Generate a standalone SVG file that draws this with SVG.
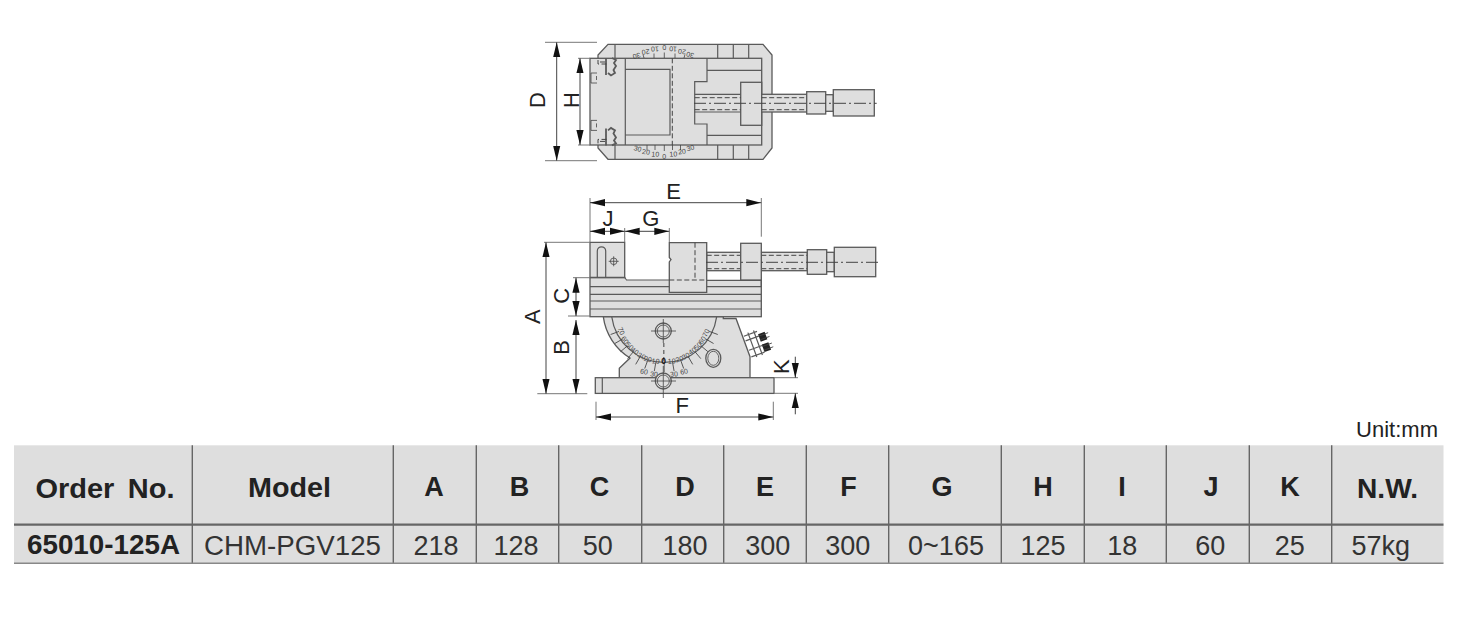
<svg xmlns="http://www.w3.org/2000/svg" xmlns:xlink="http://www.w3.org/1999/xlink" width="1463" height="622" viewBox="0 0 1463 622">
<style>
text{font-family:"Liberation Sans",Arial,sans-serif;fill:#222}
.s{fill:#dedede;stroke:#5a5a5a;stroke-width:1.3}
.l{fill:none;stroke:#5a5a5a;stroke-width:1.2}
.d{fill:none;stroke:#444;stroke-width:1;stroke-dasharray:5 2.5}
.c{fill:none;stroke:#444;stroke-width:1;stroke-dasharray:12 3 2 3}
.t{fill:none;stroke:#444;stroke-width:.8}
.dim{fill:none;stroke:#444;stroke-width:1}
.ext{fill:none;stroke:#777;stroke-width:1}
.arr{marker-end:url(#a)}
.two{marker-start:url(#a);marker-end:url(#a)}
.lab{font-size:22px;text-anchor:middle}
.sc{font-size:7px;text-anchor:middle;fill:#444}
.h{font-size:27px;font-weight:700;text-anchor:middle;fill:#222}
.v{font-size:27px;text-anchor:middle;fill:#333}
.sep{stroke:#666;stroke-width:1.4;fill:none}
</style>
<defs>
<marker id="a" markerUnits="userSpaceOnUse" markerWidth="15" markerHeight="8" refX="15" refY="4" orient="auto-start-reverse"><path d="M0 0.400L15 4L0 7.600Z" fill="#111"/></marker>
<g id="bolt">
<path class="l" style="stroke-width:1.8" d="M606 58V75M612 58L616 60L614 63L616 66L613.500 70L615 73L611 75.500L608 73"/>
<path class="d" stroke-dasharray="3 2" d="M598 60V64H607M600 62H606"/>
<path class="t" d="M597 73H591V83H597M596.500 76V80"/>
</g>
<line id="tk" class="t" x1="664.200" y1="363" x2="664.200" y2="372"/>
</defs>

<g id="top-view">
<path class="s" d="M608 44.300H763L772 55V148L763 159.300H608L598 148V55Z"/>
<path class="l" d="M615 44.300V58M615 145V159.300M717.700 44.300V58M733.300 44.300V58M748.700 44.300V58M717.700 145V159.300M733.300 145V159.300M748.700 145V159.300"/>
<rect class="s" x="590" y="58.300" width="171.700" height="86.700"/>
<path class="l" d="M625.300 58.300V145M625.300 69.300H670V135H625.300"/>
<path class="d" d="M672.300 58.300V145"/>
<path class="l" d="M707 58.300V81.700H694.700V124H707V145M707 70.300H761.700M707 135.300H761.700"/>
<rect class="s" x="740.700" y="82.300" width="21" height="43"/>
<path class="l" d="M694.700 94.300H740.700M694.700 112H740.700"/>
<rect class="s" x="761.700" y="94.300" width="45" height="17.700"/>
<path class="d" d="M694.700 97.700H740.700M694.700 109.700H740.700M761.700 97.700H806.700M761.700 109.700H806.700"/>
<rect class="s" x="806.700" y="91.700" width="19" height="22.300"/>
<rect class="s" x="825.700" y="94.700" width="7.600" height="16.600"/>
<rect class="s" x="833.300" y="89.700" width="41" height="26.300"/>
<path class="c" d="M694 103.300H876.700"/>
<use xlink:href="#bolt" href="#bolt"/>
<use xlink:href="#bolt" href="#bolt" transform="translate(0 203.400) scale(1 -1)"/>
<path class="t" d="M644 58L643 54.500M654 58V53.500M664.300 58V52.500M675 58V53.500M684 58L685 54.500M647 145V150M655 145V150M664.300 145V151M672.500 145V150M680.500 145V150"/>
<text class="sc" transform="rotate(165 636.700 55.700)" x="636.700" y="58">30</text>
<text class="sc" transform="rotate(172 645.700 52.300)" x="645.700" y="55">20</text>
<text class="sc" transform="rotate(177 655 49.300)" x="655" y="52">10</text>
<text class="sc" transform="rotate(180 664.300 47.700)" x="664.300" y="50.300">0</text>
<text class="sc" transform="rotate(183 673 49.300)" x="673" y="52">10</text>
<text class="sc" transform="rotate(188 682 51.700)" x="682" y="54.300">20</text>
<text class="sc" transform="rotate(195 690 55)" x="690" y="57.600">30</text>
<text class="sc" transform="rotate(15 637.700 148.300)" x="637.700" y="151">30</text>
<text class="sc" transform="rotate(8 646 151.700)" x="646" y="154.300">20</text>
<text class="sc" transform="rotate(3 655.300 154)" x="655.300" y="156.600">10</text>
<text class="sc" x="664.300" y="158.600">0</text>
<text class="sc" transform="rotate(-3 673.300 154)" x="673.300" y="156.600">10</text>
<text class="sc" transform="rotate(-8 682 151.300)" x="682" y="154">20</text>
<text class="sc" transform="rotate(-15 690.300 147.700)" x="690.300" y="150.300">30</text>
</g>

<g id="side-view">
<path class="s" d="M603.300 316.700A57 57 0 0 0 630 358L619.300 368.300V377.700H750V356.700L736 318.500H723.300V316.700Z"/>
<path class="l" d="M611.700 316.700A53 53 0 0 0 716.700 316.700"/>
<path class="l" d="M663.800 343V362" stroke-dasharray="4 3"/>
<g>
<use xlink:href="#tk" href="#tk" transform="rotate(10 664.200 315)"/><use xlink:href="#tk" href="#tk" transform="rotate(20 664.200 315)"/><use xlink:href="#tk" href="#tk" transform="rotate(30 664.200 315)"/><use xlink:href="#tk" href="#tk" transform="rotate(40 664.200 315)"/><use xlink:href="#tk" href="#tk" transform="rotate(50 664.200 315)"/><use xlink:href="#tk" href="#tk" transform="rotate(60 664.200 315)"/><use xlink:href="#tk" href="#tk" transform="rotate(70 664.200 315)"/>
<use xlink:href="#tk" href="#tk"/>
<use xlink:href="#tk" href="#tk" transform="rotate(-10 664.200 315)"/><use xlink:href="#tk" href="#tk" transform="rotate(-20 664.200 315)"/><use xlink:href="#tk" href="#tk" transform="rotate(-30 664.200 315)"/><use xlink:href="#tk" href="#tk" transform="rotate(-40 664.200 315)"/><use xlink:href="#tk" href="#tk" transform="rotate(-50 664.200 315)"/><use xlink:href="#tk" href="#tk" transform="rotate(-60 664.200 315)"/><use xlink:href="#tk" href="#tk" transform="rotate(-70 664.200 315)"/>
</g>
<text class="sc" transform="rotate(65 621.300 331)" x="621.300" y="333.500">70</text>
<text class="sc" transform="rotate(55 625 340)" x="625" y="342.500">60</text>
<text class="sc" transform="rotate(45 629.700 346)" x="629.700" y="348.500">50</text>
<text class="sc" transform="rotate(35 635 351)" x="635" y="353.500">40</text>
<text class="sc" transform="rotate(25 641.700 356)" x="641.700" y="358.500">30</text>
<text class="sc" transform="rotate(15 648 359)" x="648" y="361.500">20</text>
<text class="sc" transform="rotate(5 655.700 361)" x="655.700" y="363.500">10</text>
<text class="sc" x="663.700" y="363.800" style="fill:#111;font-size:8.500px;font-weight:700">0</text>
<text class="sc" transform="rotate(-5 671.700 361)" x="671.700" y="363.500">10</text>
<text class="sc" transform="rotate(-15 679.300 359)" x="679.300" y="361.500">20</text>
<text class="sc" transform="rotate(-25 685.700 356)" x="685.700" y="358.500">30</text>
<text class="sc" transform="rotate(-35 692.300 351)" x="692.300" y="353.500">40</text>
<text class="sc" transform="rotate(-45 697.700 346)" x="697.700" y="348.500">50</text>
<text class="sc" transform="rotate(-55 702.300 340)" x="702.300" y="342.500">60</text>
<text class="sc" transform="rotate(-65 706 333)" x="706" y="335.500">70</text>
<text class="sc" transform="rotate(12 644 371.500)" x="644" y="374">60</text>
<text class="sc" transform="rotate(5 654 374)" x="654" y="376.500">30</text>
<text class="sc" transform="rotate(-5 674 374)" x="674" y="376.500">30</text>
<text class="sc" transform="rotate(-12 684 371.500)" x="684" y="374">60</text>
<rect class="s" x="595.300" y="377.700" width="178.700" height="15.700"/>
<path class="l" d="M602.300 377.700V393.400"/>
<g id="holes">
<circle class="s" cx="663.300" cy="331" r="8"/><circle class="t" cx="663.300" cy="331" r="6"/>
<path class="t" d="M651 331H676M663.300 319V343"/>
<ellipse class="s" cx="713.300" cy="358.300" rx="7.500" ry="9"/><ellipse class="t" cx="713.300" cy="358.300" rx="5.500" ry="7"/>
<circle class="s" cx="663.300" cy="381" r="8"/><circle class="t" cx="663.300" cy="381" r="6"/>
<path class="t" d="M651 381H676M663.300 366V398"/>
</g>
<g id="knob" transform="translate(746 345) rotate(-20)">
<path class="l" d="M1 -9H15M1 -4H15M1 6H15M1 13H15M6 -11V15M12 -11V15"/>
<rect x="15" y="-6" width="7" height="8" fill="#222"/>
<rect x="15" y="5" width="7" height="8" fill="#222"/>
<path class="t" d="M15 -4H25M15 0H25M15 7H25M15 11H25"/>
</g>
<rect class="s" x="590" y="277.500" width="171.300" height="39.200"/>
<path class="l" d="M590 286.700H761.300M590 294.300H761.300M590 301H761.300M590 309H761.300"/>
<rect x="625.300" y="276" width="136" height="4" fill="#fff"/>
<path class="l" d="M624.700 277.500L626.500 280H669.300M706.700 280.300H761.300M761.300 280V287"/>
<path class="s" d="M590 242.300H624.700V277.500H590Z"/>
<path class="l" d="M597.300 277.500V251A4.200 4.200 0 0 1 605.700 251V277.500"/>
<circle class="t" cx="613.700" cy="261.300" r="3.300"/>
<path class="t" d="M608.700 261.300H618.700M613.700 256.300V266.300"/>
<rect class="s" x="761.300" y="252.300" width="46" height="18.400"/>
<rect class="s" x="706.700" y="252.300" width="34" height="18.400"/>
<path class="d" d="M706.700 255.300H740.700M706.700 268.700H740.700M761.300 255.300H807.300M761.300 268.700H807.300"/>
<path class="s" d="M669.300 242.700H706.700V292.300H669.300V262L671 259.500L669.300 257.500Z"/>
<path class="d" d="M695 242.700V280M669.300 280H706.700"/>
<rect class="s" x="740.700" y="243.300" width="20.600" height="36.700"/>
<rect class="s" x="807.300" y="249.700" width="19.400" height="24.600"/>
<rect class="s" x="826.700" y="252.300" width="7.600" height="19.400"/>
<rect class="s" x="834.300" y="247.300" width="41.400" height="29.400"/>
<path class="c" d="M706 262.300H879"/>
</g>

<g id="connectors">
<path class="ext" d="M545 42.300H597M545 160.700H597M578 58.300H590M578 145H590"/>
<path class="dim two" d="M556.700 42.300V160.700"/>
<path class="dim two" d="M580 58.300V145"/>
<path class="ext" d="M590 198V242M761.300 198V236.700M624.700 228V242M669.300 228V242M544 242.300H590M573 277.700H590M568 316H590M537.300 393.700H587.300M596 401.700V420M773.300 401.700V420M774 377.700H798M774 393.300H798"/>
<path class="dim two" d="M590 202.700H761.300"/>
<path class="dim two" d="M590 231.300H624.700"/>
<path class="dim two" d="M624.700 231.300H669.300"/>
<path class="dim two" d="M546 242.300V393.700"/>
<path class="dim two" d="M576 277.700V316"/>
<path class="dim two" d="M576 320V393.700"/>
<path class="dim two" d="M596 417H773.300"/>
<path class="dim arr" d="M795.300 356.700V377.700"/>
<path class="dim arr" d="M795.300 414.300V393.300"/>
</g>

<g id="dimension-labels">
<text class="lab" transform="translate(537.700 100) rotate(-90)" y="7.500">D</text>
<text class="lab" transform="translate(571 100) rotate(-90)" y="7.500">H</text>
<text class="lab" x="673.700" y="198.500">E</text>
<text class="lab" x="608" y="225.500">J</text>
<text class="lab" x="650.700" y="225.500">G</text>
<text class="lab" transform="translate(532.700 316.700) rotate(-90)" y="7.500">A</text>
<text class="lab" transform="translate(561 295.700) rotate(-90)" y="7.500">C</text>
<text class="lab" transform="translate(561.700 347.300) rotate(-90)" y="7.500">B</text>
<text class="lab" x="682.300" y="413.200">F</text>
<text class="lab" transform="translate(781 366.700) rotate(-90)" y="7.500">K</text>
</g>

<g id="table">
<text x="1438" y="437.300" text-anchor="end" style="font-size:22px">Unit:mm</text>
<rect x="14" y="445.300" width="1429.500" height="118" fill="#dedede"/>
<path class="sep" d="M192.300 445.300V563.300M393.300 445.300V563.300M476.300 445.300V563.300M558.700 445.300V563.300M641.700 445.300V563.300M723.700 445.300V563.300M806.300 445.300V563.300M888.700 445.300V563.300M1001.300 445.300V563.300M1084.300 445.300V563.300M1166.300 445.300V563.300M1249.300 445.300V563.300M1331.700 445.300V563.300"/>
<path d="M14 524.700H1443.500" stroke="#666" stroke-width="2.200" fill="none"/>
<path d="M14 563.300H1443.500" stroke="#888" stroke-width="1.600" fill="none"/>
<text class="h" x="105" y="497.700" textLength="139" lengthAdjust="spacingAndGlyphs" style="word-spacing:5px">Order No.</text>
<text class="h" x="289.500" y="496.700" textLength="83" lengthAdjust="spacingAndGlyphs">Model</text>
<text class="h" x="434" y="496">A</text>
<text class="h" x="519.500" y="496">B</text>
<text class="h" x="599.500" y="496">C</text>
<text class="h" x="685" y="496">D</text>
<text class="h" x="765" y="496">E</text>
<text class="h" x="848.500" y="496">F</text>
<text class="h" x="942" y="496">G</text>
<text class="h" x="1043" y="496">H</text>
<text class="h" x="1122" y="496">I</text>
<text class="h" x="1211" y="496">J</text>
<text class="h" x="1290" y="496">K</text>
<text class="h" x="1387.500" y="498" textLength="61" lengthAdjust="spacingAndGlyphs">N.W.</text>
<text class="h" x="103.500" y="554.300" textLength="153" lengthAdjust="spacingAndGlyphs">65010-125A</text>
<text class="v" x="292.500" y="554.500" textLength="177" lengthAdjust="spacingAndGlyphs">CHM-PGV125</text>
<text class="v" x="436" y="554.500">218</text>
<text class="v" x="516" y="554.500">128</text>
<text class="v" x="597.700" y="554.500">50</text>
<text class="v" x="685" y="554.500">180</text>
<text class="v" x="767.700" y="554.500">300</text>
<text class="v" x="847.700" y="554.500">300</text>
<text class="v" x="946" y="554.500">0~165</text>
<text class="v" x="1043" y="554.500">125</text>
<text class="v" x="1122.300" y="554.500">18</text>
<text class="v" x="1210.300" y="554.500">60</text>
<text class="v" x="1289.700" y="554.500">25</text>
<text class="v" x="1380.700" y="554.500">57kg</text>
</g>
</svg>
